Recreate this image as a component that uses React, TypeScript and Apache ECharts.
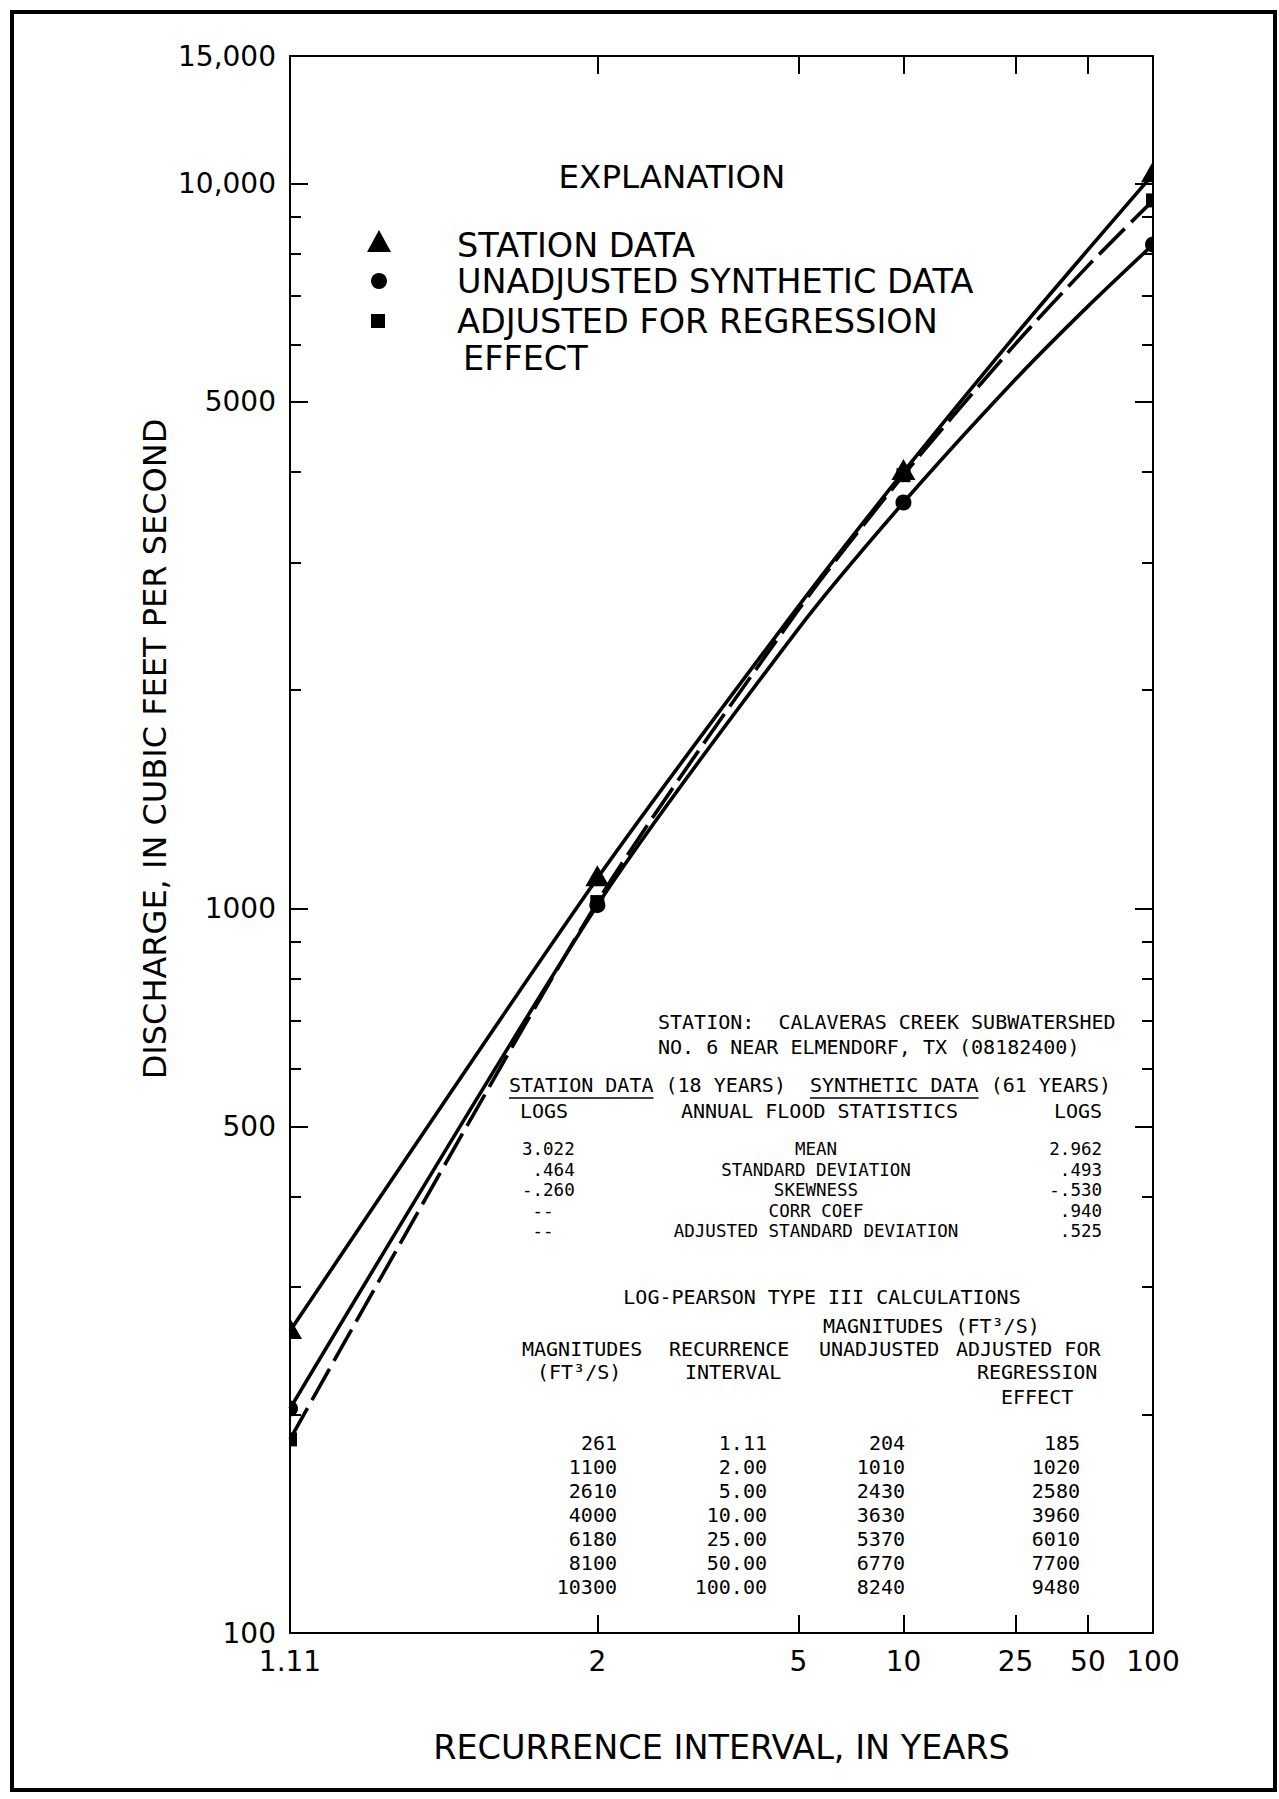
import React, { useEffect, useRef } from "react";
import * as echarts from "echarts";

// ---------- data ----------
const RECURRENCE = [1.11, 2, 5, 10, 25, 50, 100];
const RECURRENCE_TEXT = ["1.11", "2.00", "5.00", "10.00", "25.00", "50.00", "100.00"];
const STATION = [261, 1100, 2610, 4000, 6180, 8100, 10300];
const UNADJUSTED = [204, 1010, 2430, 3630, 5370, 6770, 8240];
const ADJUSTED = [185, 1020, 2580, 3960, 6010, 7700, 9480];

const STATION_MARK_T = [1.11, 2, 10, 100];
const UNADJ_MARK_T = [1.11, 2, 10, 100];
const ADJ_MARK_T = [1.11, 2, 10, 100];

const X_LABEL_T = [1.11, 2, 5, 10, 25, 50, 100];
const X_LABELS = ["1.11", "2", "5", "10", "25", "50", "100"];
const X_INNER_TICK_T = [2, 5, 10, 25, 50];

const Y_MAJOR = [100, 500, 1000, 5000, 10000, 15000];
const Y_LABELS = ["100", "500", "1000", "5000", "10,000", "15,000"];
const Y_MINOR = [200, 300, 400, 600, 700, 800, 900, 2000, 3000, 4000, 6000, 7000, 8000, 9000];

const STAT_NAMES = ["MEAN", "STANDARD DEVIATION", "SKEWNESS", "CORR COEF", "ADJUSTED STANDARD DEVIATION"];
const STATION_LOGS = ["3.022", " .464", "-.260", " --", " --"];
const SYNTHETIC_LOGS = ["2.962", ".493", "-.530", ".940", ".525"];

const X_TITLE = "RECURRENCE INTERVAL, IN YEARS";
const Y_TITLE = "DISCHARGE, IN CUBIC FEET PER SECOND";

// ---------- helpers ----------
function invNorm(p: number): number {
  const a = [-3.969683028665376e1, 2.209460984245205e2, -2.759285104469687e2, 1.38357751867269e2, -3.066479806614716e1, 2.506628277459239];
  const b = [-5.447609879822406e1, 1.615858368580409e2, -1.556989798598866e2, 6.680131188771972e1, -1.328068155288572e1];
  const c = [-7.784894002430293e-3, -3.223964580411365e-1, -2.400758277161838, -2.549732539343734, 4.374664141464968, 2.938163982698783];
  const d = [7.784695709041462e-3, 3.224671290700398e-1, 2.445134137142996, 3.754408661907416];
  const pl = 0.02425;
  let q, r;
  if (p < pl) {
    q = Math.sqrt(-2 * Math.log(p));
    return (((((c[0] * q + c[1]) * q + c[2]) * q + c[3]) * q + c[4]) * q + c[5]) / ((((d[0] * q + d[1]) * q + d[2]) * q + d[3]) * q + 1);
  }
  if (p <= 1 - pl) {
    q = p - 0.5;
    r = q * q;
    return ((((((a[0] * r + a[1]) * r + a[2]) * r + a[3]) * r + a[4]) * r + a[5]) * q) / (((((b[0] * r + b[1]) * r + b[2]) * r + b[3]) * r + b[4]) * r + 1);
  }
  q = Math.sqrt(-2 * Math.log(1 - p));
  return -(((((c[0] * q + c[1]) * q + c[2]) * q + c[3]) * q + c[4]) * q + c[5]) / ((((d[0] * q + d[1]) * q + d[2]) * q + d[3]) * q + 1);
}
const zOf = (T: number) => invNorm(1 - 1 / T);
const lg = (v: number) => Math.log10(v);

const FONT = "DejaVu Sans";
const MONO = "DejaVu Sans Mono";

export default function App() {
  const ref = useRef<HTMLDivElement>(null);

  useEffect(() => {
    const chart = echarts.init(ref.current as HTMLDivElement, null, { renderer: "svg" });
    const zMin = zOf(1.11);
    const zMax = zOf(100);
    const yMin = 2;
    const yMax = lg(15000);

    const xFmt = (v: number) => {
      const i = X_LABEL_T.findIndex((t) => Math.abs(zOf(t) - v) < 1e-6);
      return i >= 0 ? X_LABELS[i] : "";
    };
    const yFmt = (v: number) => {
      const i = Y_MAJOR.findIndex((t) => Math.abs(lg(t) - v) < 1e-6);
      return i >= 0 ? Y_LABELS[i] : "";
    };

    const axisLine = { show: true, onZero: false, lineStyle: { color: "#000", width: 2 } };
    const xBase = (pos: string) => ({
      type: "value",
      position: pos,
      min: zMin,
      max: zMax,
      axisLine,
      axisTick: { show: true, inside: true, length: 18, lineStyle: { color: "#000", width: 2 }, customValues: X_INNER_TICK_T.map(zOf) },
      splitLine: { show: false },
    });
    const yBase = (pos: string, vals: number[], len: number, showLine: boolean) => ({
      type: "value",
      position: pos,
      min: yMin,
      max: yMax,
      axisLine: { ...axisLine, show: showLine },
      axisTick: { show: true, inside: true, length: len, lineStyle: { color: "#000", width: 2 }, customValues: vals.map(lg) },
      axisLabel: { show: false },
      splitLine: { show: false },
    });

    const lineSeries = (vals: number[], dashed: boolean) => ({
      type: "line",
      xAxisIndex: 0,
      yAxisIndex: 0,
      data: RECURRENCE.map((t, i) => [zOf(t), lg(vals[i])]),
      smooth: 0.25,
      symbol: "none",
      clip: true,
      z: 3,
      lineStyle: { color: "#000", width: 3.6, type: dashed ? [36, 9] : "solid" },
    });

    const markerSeries = (vals: number[], ts: number[], kind: string, z: number) => ({
      type: "custom",
      xAxisIndex: 0,
      yAxisIndex: 0,
      clip: true,
      z,
      encode: { x: 0, y: 1 },
      data: ts.map((t) => [zOf(t), lg(vals[RECURRENCE.indexOf(t)])]),
      renderItem: (_params: any, api: any) => {
        const p = api.coord([api.value(0), api.value(1)]);
        if (kind === "triangle") {
          return {
            type: "polygon",
            shape: { points: [[p[0], p[1] - 13], [p[0] - 12, p[1] + 8], [p[0] + 12, p[1] + 8]] },
            style: { fill: "#000" },
          };
        }
        if (kind === "circle") {
          return { type: "circle", shape: { cx: p[0], cy: p[1], r: 8 }, style: { fill: "#000" } };
        }
        return { type: "rect", shape: { x: p[0] - 7, y: p[1] - 7, width: 14, height: 14 }, style: { fill: "#000" } };
      },
    });

    const txt = (text: string, x: number, y: number, size: number, align = "left", family = MONO) => ({
      type: "text",
      x,
      y,
      silent: true,
      style: { text, fill: "#000", fontFamily: family, fontSize: size, textAlign: align, textVerticalAlign: "middle" },
    });
    const hline = (x1: number, x2: number, y: number, w = 1.5) => ({
      type: "line",
      silent: true,
      shape: { x1, y1: y, x2, y2: y },
      style: { stroke: "#000", lineWidth: w },
    });

    const TS = 20; // table font size
    const SS = 17.5; // statistics rows font size
    const CW = TS * 0.602; // mono char width
    const hdrX = 509;

    const graphics: any[] = [
      // outer frame
      { type: "rect", silent: true, shape: { x: 12, y: 12, width: 1263, height: 1778 }, style: { fill: "none", stroke: "#000", lineWidth: 4 } },
      // y-axis title
      {
        type: "text",
        x: 155,
        y: 749,
        rotation: Math.PI / 2,
        silent: true,
        style: { text: Y_TITLE, fill: "#000", fontFamily: FONT, fontSize: 32, textAlign: "center", textVerticalAlign: "middle" },
      },
      // explanation
      txt("EXPLANATION", 672, 177, 32.5, "center", FONT),
      { type: "polygon", silent: true, shape: { points: [[379, 230], [367, 252], [391, 252]] }, style: { fill: "#000" } },
      txt("STATION DATA", 457, 245, 33.5, "left", FONT),
      { type: "circle", silent: true, shape: { cx: 379, cy: 281, r: 8 }, style: { fill: "#000" } },
      txt("UNADJUSTED SYNTHETIC DATA", 457, 281, 33.5, "left", FONT),
      { type: "rect", silent: true, shape: { x: 371, y: 314, width: 14, height: 14 }, style: { fill: "#000" } },
      txt("ADJUSTED FOR REGRESSION", 457, 321, 33.5, "left", FONT),
      txt("EFFECT", 463, 358, 33.5, "left", FONT),
      // station block
      txt("STATION:  CALAVERAS CREEK SUBWATERSHED", 658, 1022, TS),
      txt("NO. 6 NEAR ELMENDORF, TX (08182400)", 658, 1047, TS),
      txt("STATION DATA (18 YEARS)  SYNTHETIC DATA (61 YEARS)", hdrX, 1085, TS),
      hline(hdrX, hdrX + 12 * CW, 1098),
      hline(hdrX + 25 * CW, hdrX + 39 * CW, 1098),
      txt("LOGS", 520, 1111, TS),
      txt("ANNUAL FLOOD STATISTICS", 681, 1111, TS),
      txt("LOGS", 1054, 1111, TS),
      // LP3 table headings
      txt("LOG-PEARSON TYPE III CALCULATIONS", 822, 1297, TS, "center"),
      txt("MAGNITUDES (FT³/S)", 823, 1326, TS),
      txt("MAGNITUDES", 522, 1349, TS),
      txt("RECURRENCE", 669, 1349, TS),
      txt("UNADJUSTED", 819, 1349, TS),
      txt("ADJUSTED FOR", 956, 1349, TS),
      txt("(FT³/S)", 537, 1372, TS),
      txt("INTERVAL", 685, 1372, TS),
      txt("REGRESSION", 977, 1372, TS),
      txt("EFFECT", 1001, 1397, TS),
    ];

    STAT_NAMES.forEach((name, i) => {
      const y = 1149 + i * 20.5;
      graphics.push(txt(STATION_LOGS[i], 522, y, SS, "left"));
      graphics.push(txt(name, 816, y, SS, "center"));
      graphics.push(txt(SYNTHETIC_LOGS[i], 1102, y, SS, "right"));
    });

    RECURRENCE.forEach((_t, i) => {
      const y = 1443 + i * 24;
      graphics.push(txt(String(STATION[i]), 617, y, TS, "right"));
      graphics.push(txt(RECURRENCE_TEXT[i], 767, y, TS, "right"));
      graphics.push(txt(String(UNADJUSTED[i]), 905, y, TS, "right"));
      graphics.push(txt(String(ADJUSTED[i]), 1080, y, TS, "right"));
    });

    const option: any = {
      animation: false,
      backgroundColor: "#fff",
      grid: { left: 290, top: 56, width: 863, height: 1577, containLabel: false },
      xAxis: [
        {
          ...xBase("bottom"),
          axisLabel: {
            show: true,
            customValues: X_LABEL_T.map(zOf),
            formatter: xFmt,
            fontFamily: FONT,
            fontSize: 28,
            color: "#000",
            margin: 14,
            showMinLabel: true,
            showMaxLabel: true,
          },
          name: X_TITLE,
          nameLocation: "middle",
          nameGap: 97,
          nameTextStyle: { fontFamily: FONT, fontSize: 33.5, color: "#000" },
        },
        { ...xBase("top"), axisLabel: { show: false } },
      ],
      yAxis: [
        {
          ...yBase("left", Y_MAJOR, 18, true),
          axisLabel: {
            show: true,
            customValues: Y_MAJOR.map(lg),
            formatter: yFmt,
            fontFamily: FONT,
            fontSize: 28,
            color: "#000",
            margin: 14,
            showMinLabel: true,
            showMaxLabel: true,
          },
        },
        yBase("left", Y_MINOR, 11, false),
        yBase("right", Y_MAJOR, 18, true),
        yBase("right", Y_MINOR, 11, false),
      ],
      series: [
        lineSeries(STATION, false),
        lineSeries(UNADJUSTED, false),
        lineSeries(ADJUSTED, true),
        markerSeries(ADJUSTED, ADJ_MARK_T, "square", 4),
        markerSeries(UNADJUSTED, UNADJ_MARK_T, "circle", 5),
        markerSeries(STATION, STATION_MARK_T, "triangle", 6),
      ],
      graphic: graphics,
    };

    chart.setOption(option);
    return () => chart.dispose();
  }, []);

  return (
    <div
      ref={ref}
      style={{ position: "absolute", left: 0, top: 0, width: 1279, height: 1799, background: "#fff" }}
    />
  );
}
